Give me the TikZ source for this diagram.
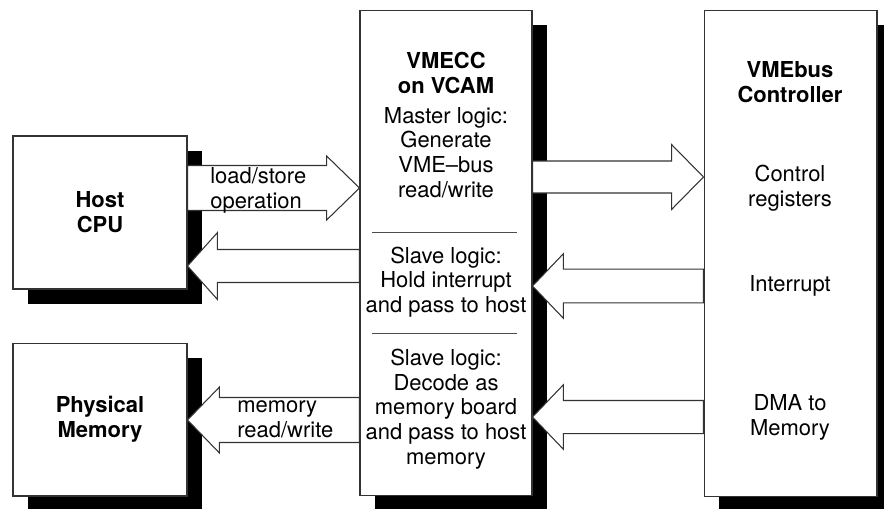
\documentclass[tikz,border=0pt]{standalone}
\usepackage{fontspec}
\setmainfont{TeX Gyre Heros}
\usetikzlibrary{calc,shadows}

\begin{document}
\begin{tikzpicture}[x=0.02cm, y=-0.02cm, font=\fontsize{12.5}{14.1}\selectfont,
    box/.style = {draw=black!80, line width=0.6pt, fill=white, inner sep=0pt,
      drop shadow={shadow xshift=8.5pt, shadow yshift=-8.5pt, fill=black, opacity=1}},
    txt/.style = {align=center},
    title/.style = {align=center, font=\fontsize{12.5}{14.1}\selectfont\bfseries},
    lbl/.style = {anchor=west, align=left, inner sep=0pt},
    sep/.style = {draw=black!70, line width=0.5pt},
    fat/.style n args = {3}{draw=black!80, line width=0.6pt, fill=white, to path={
      let \p1=(\tikztostart), \p2=(\tikztotarget), \n1={sign(\x2-\x1)*#3} in
      (\x1,\y1+#1) -- (\x2-\n1,\y1+#1) -- (\x2-\n1,\y1+#2) -- (\x2,\y1)
      -- (\x2-\n1,\y1-#2) -- (\x2-\n1,\y1-#1) -- (\x1,\y1-#1) -- cycle}}]
    \useasboundingbox (0,0) rectangle (884,508);

    \node[box, title, minimum width=3.48cm, minimum height=3.06cm] (host) at (100,212.5) {Host\\CPU};
    \node[box, title, minimum width=3.48cm, minimum height=3.06cm] (mem) at (100,419.5) {Physical\\Memory};
    \node[box, minimum width=3.44cm, minimum height=9.72cm] (vmecc) at (446,253) {};
    \node[box, minimum width=3.46cm, minimum height=9.74cm] (ctrl) at (790.5,253.5) {};

    % inside the VMECC
    \node[title] (vmecctitle) at (446,73) {VMECC\\on VCAM};
    \node[txt] (master) at (446,152.5) {Master logic:\\Generate\\VME--bus\\read/write};
    \node[txt] (slaveint) at (446,282) {Slave logic:\\Hold interrupt\\and pass to host};
    \node[txt] (slavemem) at (446,409) {Slave logic:\\Decode as\\memory board\\and pass to host\\memory};
    \draw[sep] (372,232) -- (517,232);
    \draw[sep] (372,333) -- (517,333);

    % inside the controller
    \node[title] (ctrltitle) at (790,82) {VMEbus\\Controller};
    \node[txt] (regs) at (790,188) {Control\\registers};
    \node[txt] (intr) at (790,286) {Interrupt};
    \node[txt] (dma) at (790,417) {DMA to\\Memory};

    % bus arrows
    \draw[fat={12.8pt}{18.2pt}{18.7pt}] (host.east |- 0,188) to (vmecc.west |- 0,188);
    \draw[fat={9.4pt}{19pt}{17pt}] (vmecc.west |- 0,266) to (host.east |- 0,266);
    \draw[fat={12.8pt}{18.7pt}{18.1pt}] (vmecc.west |- 0,420) to (mem.east |- 0,420);
    \draw[fat={9.1pt}{18.4pt}{18.1pt}] (vmecc.east |- 0,177) to (ctrl.west |- 0,177);
    \draw[fat={9.6pt}{18.4pt}{17.6pt}] (ctrl.west |- 0,286) to (vmecc.east |- 0,286);
    \draw[fat={9.4pt}{18.4pt}{17.6pt}] (ctrl.west |- 0,417) to (vmecc.east |- 0,417);

    \node[lbl] (ldst) at (210,190) {load/store\\operation};
    \node[lbl] (memrw) at (237,419) {memory\\read/write};
\end{tikzpicture}
\end{document}
